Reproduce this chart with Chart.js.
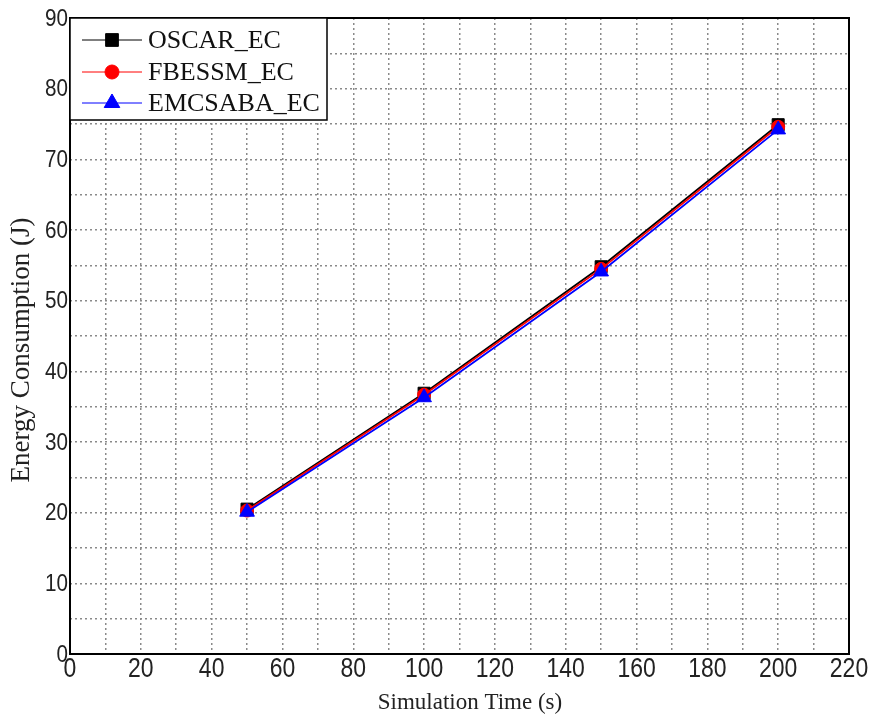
<!DOCTYPE html>
<html>
<head>
<meta charset="utf-8">
<script src="https://cdn.jsdelivr.net/npm/chart.js@4.4.1/dist/chart.umd.min.js"></script>
<style>
  html, body { margin: 0; padding: 0; background: #ffffff; }
  #wrap { width: 874px; height: 721px; }
</style>
</head>
<body>
<div id="wrap"><canvas id="c" width="874" height="721"></canvas></div>
<script>
// Simulation time (s) on the x axis
const simTimes = [50, 100, 150, 200];
// Energy consumption (J) per scheme
const oscarEC   = [20.5, 36.9, 54.8, 74.9];
const fbessmEC  = [20.3, 36.7, 54.5, 74.6];
const emcsabaEC = [20.1, 36.3, 54.1, 74.2];
const seriesNames = ['OSCAR_EC', 'FBESSM_EC', 'EMCSABA_EC'];
// Labelled ticks (grid also drawn at the half-steps)
const xTickLabels = [0, 20, 40, 60, 80, 100, 120, 140, 160, 180, 200, 220];
const yTickLabels = [0, 10, 20, 30, 40, 50, 60, 70, 80, 90];

const serifFont = '"Liberation Serif", "Times New Roman", serif';
const sansFont = '"Liberation Sans", Arial, sans-serif';

const toPoints = (vals) => simTimes.map((t, i) => ({ x: t, y: vals[i] }));

const seriesStyles = [
  { color: '#000000', pointStyle: 'rect',     radius: 8.5, order: 2 },
  { color: '#ff0000', pointStyle: 'circle',   radius: 6.5, order: 1 },
  { color: '#0000ff', pointStyle: 'triangle', radius: 8.5, order: 0 }
];
const seriesValues = [oscarEC, fbessmEC, emcsabaEC];

const datasets = seriesNames.map((name, i) => ({
  label: name,
  data: toPoints(seriesValues[i]),
  borderColor: seriesStyles[i].color,
  backgroundColor: seriesStyles[i].color,
  pointBackgroundColor: seriesStyles[i].color,
  pointBorderColor: seriesStyles[i].color,
  pointStyle: seriesStyles[i].pointStyle,
  pointRadius: seriesStyles[i].radius,
  pointBorderWidth: 1,
  borderWidth: 1.8,
  tension: 0,
  order: seriesStyles[i].order
}));

// Condensed tick labels placed at the scales' own tick positions
const condensedTicks = {
  id: 'condensedTicks',
  afterDraw(chart) {
    const ctx = chart.ctx;
    const a = chart.chartArea;
    const xs = chart.scales.x, ys = chart.scales.y;
    ctx.save();
    ctx.fillStyle = '#222';

    ctx.font = '28px ' + sansFont;
    ctx.textAlign = 'center';
    ctx.textBaseline = 'top';
    xs.ticks.forEach(t => {
      if (!xTickLabels.includes(t.value)) return;
      ctx.save();
      ctx.translate(xs.getPixelForValue(t.value), a.bottom + 1);
      ctx.scale(0.82, 1);
      ctx.fillText(String(t.value), 0, 0);
      ctx.restore();
    });

    ctx.font = '24px ' + sansFont;
    ctx.textAlign = 'right';
    ctx.textBaseline = 'middle';
    ys.ticks.forEach(t => {
      if (!yTickLabels.includes(t.value)) return;
      ctx.save();
      ctx.translate(a.left - 2, ys.getPixelForValue(t.value) + 1);
      ctx.scale(0.86, 1);
      ctx.fillText(String(t.value), 0, 0);
      ctx.restore();
    });
    ctx.restore();
  }
};

// Frame, axis titles and boxed legend drawn on top of the plot
const decorations = {
  id: 'decorations',
  afterDatasetsDraw(chart) {
    const ctx = chart.ctx;
    const a = chart.chartArea;
    ctx.save();

    // plot frame
    ctx.strokeStyle = '#000';
    ctx.lineWidth = 2;
    ctx.setLineDash([]);
    ctx.strokeRect(a.left, a.top, a.right - a.left, a.bottom - a.top);

    // legend box
    const lx = a.left, ly = a.top, lw = 257, lh = 102;
    ctx.fillStyle = '#fff';
    ctx.fillRect(lx, ly, lw, lh);
    ctx.lineWidth = 1.5;
    ctx.strokeStyle = '#000';
    ctx.strokeRect(lx, ly, lw, lh);

    const rowY = [40, 72, 103];
    chart.data.datasets.forEach((ds, i) => {
      const y = rowY[i];
      ctx.strokeStyle = ds.borderColor;
      ctx.lineWidth = 1;
      ctx.beginPath();
      ctx.moveTo(a.left + 12, y);
      ctx.lineTo(a.left + 72, y);
      ctx.stroke();
      ctx.fillStyle = ds.pointBackgroundColor;
      ctx.strokeStyle = ds.pointBorderColor;
      Chart.helpers.drawPoint(ctx, {
        pointStyle: ds.pointStyle,
        radius: ds.pointStyle === 'circle' ? 7 : 9,
        rotation: 0,
        borderWidth: 1
      }, a.left + 42, y);
      ctx.fillStyle = '#111';
      ctx.font = '26px ' + serifFont;
      ctx.textAlign = 'left';
      ctx.textBaseline = 'middle';
      ctx.fillText(ds.label, a.left + 78, y + 1);
    });

    // axis titles
    ctx.fillStyle = '#222';
    ctx.font = '23px ' + serifFont;
    ctx.textAlign = 'center';
    ctx.textBaseline = 'middle';
    ctx.fillText('Simulation Time (s)', 470, 703);

    ctx.save();
    ctx.translate(22, 350);
    ctx.rotate(-Math.PI / 2);
    ctx.font = '27px ' + serifFont;
    ctx.fillText('Energy Consumption (J)', 0, 0);
    ctx.restore();

    ctx.restore();
  }
};

new Chart(document.getElementById('c'), {
  type: 'line',
  data: { datasets },
  plugins: [decorations, condensedTicks],
  options: {
    responsive: false,
    animation: false,
    devicePixelRatio: 1,
    layout: { padding: { left: 0, top: 18, right: 25, bottom: 0 } },
    plugins: { legend: { display: false }, tooltip: { enabled: false } },
    scales: {
      x: {
        type: 'linear',
        min: 0,
        max: 220,
        afterFit(scale) { scale.height = 67; },
        ticks: { stepSize: 10, autoSkip: false, maxRotation: 0, display: false },
        grid: { color: '#8a8a8a', lineWidth: 1.5, drawTicks: false },
        border: { display: false, dash: [2, 3] }
      },
      y: {
        type: 'linear',
        min: 0,
        max: 90,
        afterFit(scale) { scale.width = 70; },
        ticks: { stepSize: 5, autoSkip: false, display: false },
        grid: { color: '#8a8a8a', lineWidth: 1.5, drawTicks: false },
        border: { display: false, dash: [2, 3] }
      }
    }
  }
});
</script>
</body>
</html>
